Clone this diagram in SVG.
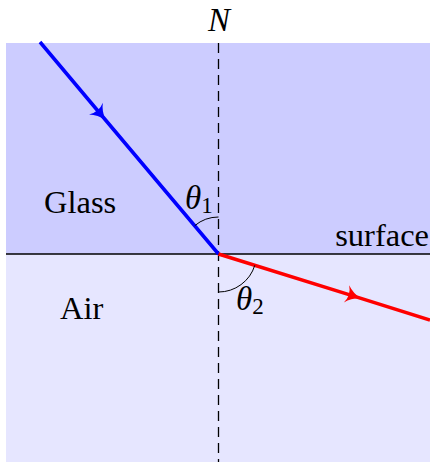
<svg xmlns="http://www.w3.org/2000/svg" width="430" height="462" viewBox="0 0 430 462">
<style>
text{font-family:"Liberation Serif","DejaVu Serif",serif;fill:#000}
.lbl{font-size:32.5px}
.math{font-size:33px;font-style:italic}
.sub{font-size:23px}
.ray{fill:none;stroke-width:3.5;stroke-linecap:butt}
</style>
<defs>
<marker id="ab" markerUnits="userSpaceOnUse" viewBox="-12 -10 18 20" markerWidth="18" markerHeight="20" refX="0" refY="0" orient="auto">
<path d="M4,0 Q-5,-2.5 -11,-9 Q-6,0 -11,9 Q-5,2.5 4,0 Z" fill="#0000ff"/>
</marker>
<marker id="ar" markerUnits="userSpaceOnUse" viewBox="-12 -10 18 20" markerWidth="18" markerHeight="20" refX="0" refY="0" orient="auto">
<path d="M4,0 Q-5,-2.5 -11,-9 Q-6,0 -11,9 Q-5,2.5 4,0 Z" fill="#ff0000"/>
</marker>
</defs>
<g id="glass"><rect x="6" y="43" width="424" height="211" fill="#ccccff"/></g>
<g id="air"><rect x="6" y="254" width="424" height="208" fill="#e6e6ff"/></g>
<g id="connectors">
<line x1="218.5" y1="43" x2="218.5" y2="462" stroke="#000" stroke-width="1.3" stroke-dasharray="10 6"/>
<line x1="6" y1="254" x2="430" y2="254" stroke="#000" stroke-width="1.5"/>
<path class="ray" d="M40,42 L103,117 L218.5,254" stroke="#0000ff" marker-mid="url(#ab)"/>
<path class="ray" d="M218.5,254 L357,297.2 L430,320" stroke="#ff0000" marker-mid="url(#ar)"/>
<path d="M218.5,217 A37,37 0 0 0 194.7,225.7" fill="none" stroke="#000" stroke-width="1"/>
<path d="M218.5,292 A38,38 0 0 0 254.8,265.3" fill="none" stroke="#000" stroke-width="1"/>
</g>
<g id="labels">
<text class="math" x="219" y="31" text-anchor="middle">N</text>
<text class="lbl" x="44" y="213">Glass</text>
<text class="lbl" x="60" y="319">Air</text>
<text class="lbl" x="429" y="246" text-anchor="end">surface</text>
<text x="185" y="209"><tspan class="math">θ</tspan><tspan class="sub" dy="4">1</tspan></text>
<text x="236" y="310"><tspan class="math">θ</tspan><tspan class="sub" dy="4">2</tspan></text>
</g>
</svg>
